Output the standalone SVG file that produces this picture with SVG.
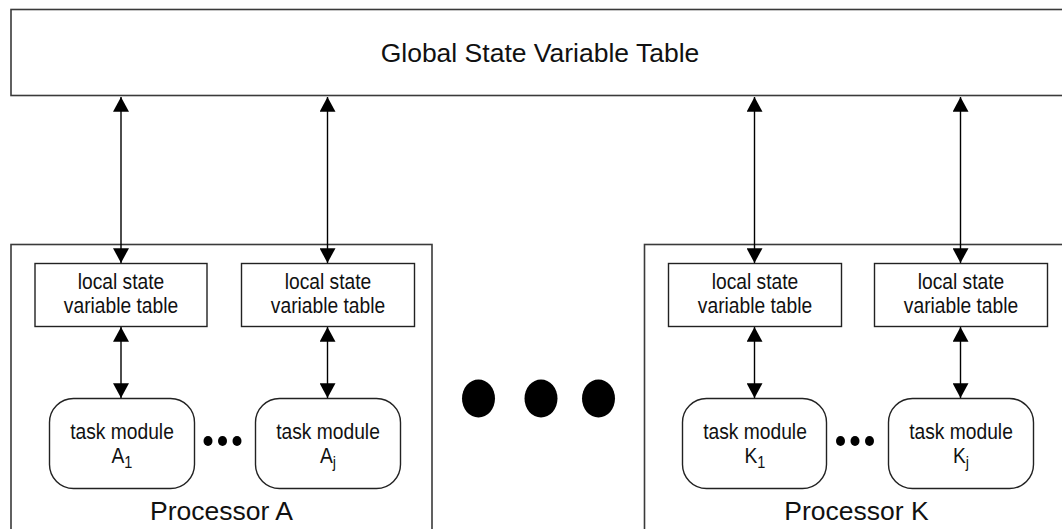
<svg xmlns="http://www.w3.org/2000/svg" width="1062" height="529" viewBox="0 0 1062 529">
  <style>
    .frame { fill: #fff; stroke: #3a3a3a; stroke-width: 1.6; }
    .box { fill: #fff; stroke: #222; stroke-width: 1.4; }
    .wire { stroke: #000; stroke-width: 1.4; fill: none; marker-start: url(#head); marker-end: url(#head); }
    .big { font-family: "Liberation Sans", Arial, sans-serif; font-size: 26.5px; fill: #111; text-anchor: middle; }
    .narrow { font-family: "Liberation Sans", Arial, sans-serif; font-size: 22.5px; fill: #111; text-anchor: middle; }
    .sub { font-size: 17px; }
    .dot { fill: #000; }
  </style>
  <defs>
    <marker id="head" markerUnits="userSpaceOnUse" markerWidth="16" markerHeight="16" viewBox="0 0 14 14" refX="13" refY="7" orient="auto-start-reverse">
      <path d="M0,0 L13,7 L0,14 Z" fill="#000"/>
    </marker>
  </defs>

  <!-- global table -->
  <g id="global">
    <rect class="frame" x="11" y="9.5" width="1060" height="86" stroke-width="2"/>
    <text class="big" x="540" y="62">Global State Variable Table</text>
  </g>

  <!-- processor frames -->
  <g id="processorA">
    <rect class="frame" x="11" y="244.5" width="421" height="300"/>
    <text class="big" x="221.5" y="520">Processor A</text>
  </g>
  <g id="processorK">
    <rect class="frame" x="644.5" y="244.5" width="430" height="300"/>
    <text class="big" x="856.5" y="520">Processor K</text>
  </g>

  <!-- local tables -->
  <g id="localA1">
    <rect class="box" x="35" y="263.5" width="172" height="63"/>
    <text class="narrow" transform="translate(121,289) scale(0.855,1)">local state</text>
    <text class="narrow" transform="translate(121,313) scale(0.855,1)">variable table</text>
  </g>
  <g id="localAj">
    <rect class="box" x="241.5" y="263.5" width="173" height="63"/>
    <text class="narrow" transform="translate(328,289) scale(0.855,1)">local state</text>
    <text class="narrow" transform="translate(328,313) scale(0.855,1)">variable table</text>
  </g>
  <g id="localK1">
    <rect class="box" x="668.5" y="263.5" width="173" height="63"/>
    <text class="narrow" transform="translate(755,289) scale(0.855,1)">local state</text>
    <text class="narrow" transform="translate(755,313) scale(0.855,1)">variable table</text>
  </g>
  <g id="localKj">
    <rect class="box" x="874.5" y="263.5" width="173" height="63"/>
    <text class="narrow" transform="translate(961,289) scale(0.855,1)">local state</text>
    <text class="narrow" transform="translate(961,313) scale(0.855,1)">variable table</text>
  </g>

  <!-- task modules -->
  <g id="taskA1">
    <rect class="box" x="49.5" y="398.5" width="145" height="90" rx="24" ry="24"/>
    <text class="narrow" transform="translate(122,439) scale(0.855,1)">task module</text>
    <text class="narrow" transform="translate(122,463) scale(0.855,1)">A<tspan class="sub" dy="5">1</tspan></text>
  </g>
  <g id="taskAj">
    <rect class="box" x="255.5" y="398.5" width="145" height="90" rx="24" ry="24"/>
    <text class="narrow" transform="translate(328,439) scale(0.855,1)">task module</text>
    <text class="narrow" transform="translate(328,463) scale(0.855,1)">A<tspan class="sub" dy="5">j</tspan></text>
  </g>
  <g id="taskK1">
    <rect class="box" x="682.5" y="398.5" width="144" height="90" rx="24" ry="24"/>
    <text class="narrow" transform="translate(755,439) scale(0.855,1)">task module</text>
    <text class="narrow" transform="translate(755,463) scale(0.855,1)">K<tspan class="sub" dy="5">1</tspan></text>
  </g>
  <g id="taskKj">
    <rect class="box" x="888.5" y="398.5" width="145" height="90" rx="24" ry="24"/>
    <text class="narrow" transform="translate(961,439) scale(0.855,1)">task module</text>
    <text class="narrow" transform="translate(961,463) scale(0.855,1)">K<tspan class="sub" dy="5">j</tspan></text>
  </g>

  <!-- ellipsis marks -->
  <g id="ellipsisA">
    <ellipse class="dot" cx="208" cy="441" rx="4.5" ry="5"/>
    <ellipse class="dot" cx="222.5" cy="441" rx="4.5" ry="5"/>
    <ellipse class="dot" cx="237" cy="441" rx="4.5" ry="5"/>
  </g>
  <g id="ellipsisK">
    <ellipse class="dot" cx="840.5" cy="441" rx="4.5" ry="5"/>
    <ellipse class="dot" cx="855" cy="441" rx="4.5" ry="5"/>
    <ellipse class="dot" cx="869.5" cy="441" rx="4.5" ry="5"/>
  </g>
  <g id="ellipsisMain">
    <ellipse class="dot" cx="478.5" cy="398.5" rx="16.5" ry="19"/>
    <ellipse class="dot" cx="541" cy="398.5" rx="16.5" ry="19"/>
    <ellipse class="dot" cx="598.5" cy="398.5" rx="16.5" ry="19"/>
  </g>

  <!-- connectors -->
  <g id="connectors">
    <line class="wire" x1="121" y1="97" x2="121" y2="263"/>
    <line class="wire" x1="327.5" y1="97" x2="327.5" y2="263"/>
    <line class="wire" x1="754.5" y1="97" x2="754.5" y2="263"/>
    <line class="wire" x1="960.5" y1="97" x2="960.5" y2="263"/>
    <line class="wire" x1="121" y1="327" x2="121" y2="398"/>
    <line class="wire" x1="327.5" y1="327" x2="327.5" y2="398"/>
    <line class="wire" x1="754.5" y1="327" x2="754.5" y2="398"/>
    <line class="wire" x1="960.5" y1="327" x2="960.5" y2="398"/>
  </g>
</svg>
